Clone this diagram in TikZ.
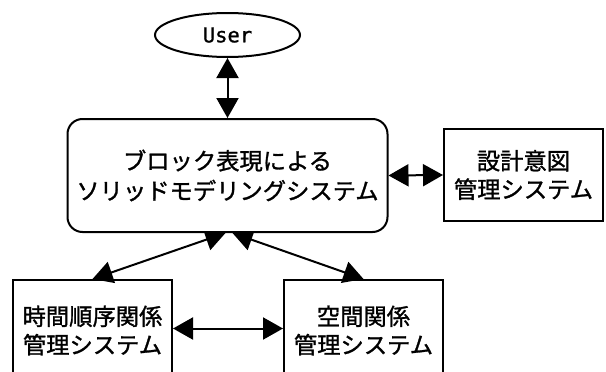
\documentclass[tikz,border=0pt]{standalone}
\usepackage{fontspec}
\newfontfamily\jpfont[FakeBold=1.2]{Noto Sans CJK JP}
\newfontfamily\monofont[FakeBold=1]{DejaVu Sans Mono}
\usetikzlibrary{arrows.meta,shapes.geometric}
\pgfdeclarelayer{back}
\pgfdeclarelayer{mid}
\pgfsetlayers{back,mid,main}
\begin{document}
\begin{tikzpicture}[x=1pt,y=-1pt,
  box/.style={draw, line width=2pt, fill=white, inner sep=0pt, align=center,
    font=\jpfont\fontsize{23.3}{28.5}\selectfont},
  link/.style={line width=2pt,
    {Triangle[length=20pt,width=22pt]}-{Triangle[length=20pt,width=22pt]}}]
\useasboundingbox (0,0) rectangle (606,372);
\node[ellipse, draw, line width=2pt, fill=white, minimum width=145pt, minimum height=44pt,
  inner sep=0pt, font=\monofont\fontsize{20.5}{20.5}\selectfont] (user) at (227.5,35) {User};
\node[box, rounded corners=15pt, minimum width=320pt, minimum height=113pt,
  font=\jpfont\fontsize{23.3}{30}\selectfont] (rnd) at (227.5,175.5)
  {ブロック表現による\\ソリッドモデリングシステム};
\node[box, minimum width=159pt, minimum height=92pt] (dim) at (523.5,175)
  {設計意図\\管理システム};
\begin{pgfonlayer}{back}
\node[box, minimum width=159pt, minimum height=101pt, anchor=north] (time) at (92.5,279)
  {時間順序関係\\管理システム};
\node[box, minimum width=159pt, minimum height=101pt, anchor=north] (space) at (363.5,279)
  {空間関係\\管理システム};
\end{pgfonlayer}
\begin{pgfonlayer}{mid}
\draw[link] (user.south) -- (rnd.north);
\draw[link] (rnd.east) -- (dim.west);
\draw[link] ([yshift=2pt]time.east) -- ([yshift=2pt]space.west);
\draw[link] (time.north) -- ([xshift=-2pt]rnd.south);
\draw[link] (space.north) -- ([xshift=5pt]rnd.south);
\end{pgfonlayer}
\end{tikzpicture}
\end{document}
